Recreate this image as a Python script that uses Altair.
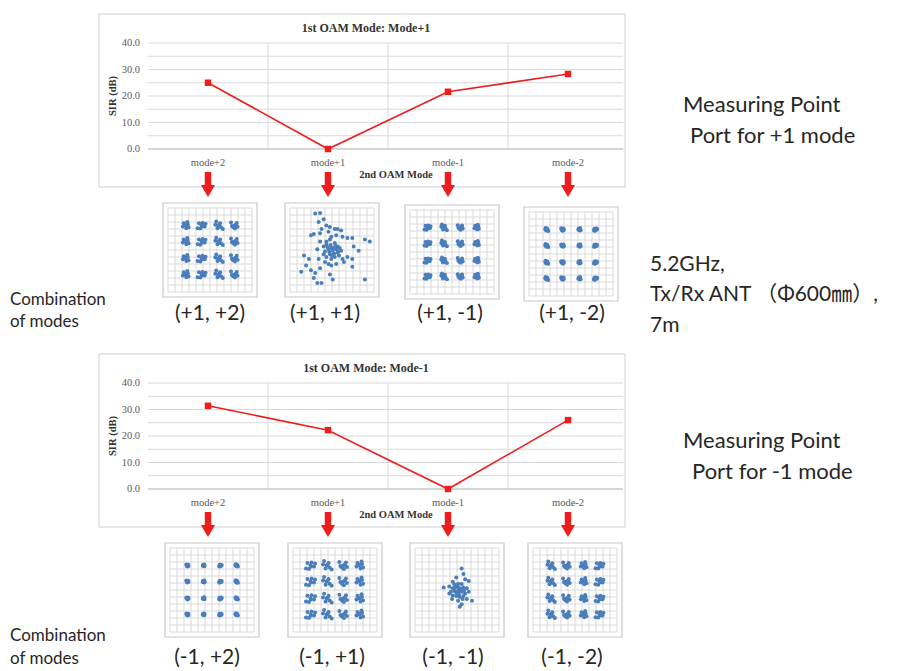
import altair as alt
import pandas as pd

# ---------------- data ----------------
MODES = ["mode+2", "mode+1", "mode-1", "mode-2"]
SIR_MODE_P1 = [25.0, 0.0, 21.6, 28.3]
SIR_MODE_M1 = [31.4, 22.2, 0.0, 26.0]
Y_GRID = [0, 5, 10, 15, 20, 25, 30, 35, 40]
Y_LABELS = [0, 10, 20, 30, 40]
TITLE_P1 = "1st OAM Mode: Mode+1"
TITLE_M1 = "1st OAM Mode: Mode-1"
X_TITLE = "2nd OAM Mode"
Y_TITLE = "SIR (dB)"

COMBOS_P1 = ["(+1, +2)", "(+1, +1)", "(+1, -1)", "(+1, -2)"]
COMBOS_M1 = ["(-1, +2)", "(-1, +1)", "(-1, -1)", "(-1, -2)"]
COMBO_TEXT = ["Combination", "of modes"]
RIGHT_P1 = ["Measuring Point", "Port for +1 mode"]
RIGHT_M1 = ["Measuring Point", "Port for -1 mode"]
SETUP_TEXT = ["5.2GHz,", "Tx/Rx ANT （Φ600㎜）,", "7m"]

THUMB_GRID = [-6, -5, -4, -3, -2, -1, 0, 1, 2, 3, 4, 5, 6]
LEVELS = [-3.5, -1.2, 1.2, 3.5]
JITTERS = [
    [(0, 0), (0.25, 0.15), (-0.2, 0.25), (0.1, -0.3), (-0.3, -0.1), (0.2, 0.4), (-0.05, 0.1), (0.35, -0.2)],
    [(0, 0), (0.35, -0.1), (0.1, 0.3), (-0.3, 0.25), (-0.15, -0.35), (0.45, 0.2), (-0.45, -0.3), (0.05, -0.1)],
    [(0, 0), (-0.35, 0.1), (0.2, 0.25), (0.3, -0.2), (-0.1, -0.3), (0.5, -0.4), (-0.25, 0.45), (0.1, 0.1)],
    [(0, 0), (0.25, 0.3), (-0.3, -0.05), (0.05, -0.35), (0.35, -0.15), (-0.4, 0.35), (0.15, 0.1), (-0.15, -0.2)],
]
# cluster spread per constellation panel (None = scattered panel)
SPREADS_P1 = [1.25, None, 0.95, 0.5]
SPREADS_M1 = [0.4, 1.45, None, 1.25]
SHIFTS_P1 = [0, 0, 1, 2]
SHIFTS_M1 = [3, 1, 0, 2]

SCAT_P1P1_X = [-2.4, -1.7, -1.9, -1.2, -1.5, -0.8, -0.3, 0.4, 0.8, 1.3, -3.0, -2.6, -1.7, -0.5, -0.1, 0.6, 1.5,
               2.2, 2.9, 4.7, 5.4, -1.7, -0.8, -0.3, 3.1, -2.1, -1.2, -0.5, -0.1, 0.1, 0.6, 0.8, -0.3, -0.8,
               0.4, 1.0, 1.5, 2.2, 2.9, 3.8, -4.0, -3.3, -1.0, -0.5, -0.1, 0.6, 1.7, 2.9, -3.7, -4.4, -3.0,
               -2.4, -2.6, -2.1, -1.5, -0.3, 0.1, 4.7, -1.2, -0.1, -1.7, -0.8, 0.4, 0.8, 1.3, -1.9, 0.2,
               -0.4, 0.3, 0.5, -0.6, 0.9, -0.2, 0.0, 1.1, -1.0]
SCAT_P1P1_Y = [5.2, 5.3, 4.0, 4.4, 3.0, 3.5, 3.3, 3.0, 3.0, 2.8, 2.1, 2.3, 2.4, 2.6, 1.9, 2.1, 1.9,
               1.7, 1.7, 1.5, 1.2, 1.2, 1.2, 1.5, 0.5, 0.1, 0.5, 0.1, 0.3, -0.1, 0.1, -0.4, -0.6, -1.0,
               -1.0, -0.8, -1.3, -1.0, -1.3, -0.1, -0.8, -1.3, -1.7, -2.0, -2.2, -2.0, -1.7, -2.4, -2.2, -3.1, -2.9,
               -3.3, -4.0, -4.7, -4.7, -3.5, -4.2, -4.2, -0.6, -1.3, -2.6, 0.8, 1.0, 0.5, -0.1, -1.3, 0.3,
               -0.3, -0.5, 0.6, 0.4, -0.2, 0.7, -0.8, 0.3, -0.2]
SCAT_M1M1_X = [0.66, 0.92, -0.1, 1.17, 1.68, -0.6, 0.15, 0.66, -1.9, -1.1, -0.6, -0.1, 0.4, 0.9, 1.4, -0.87,
               -0.36, 0.15, 0.66, 1.17, 1.68, -0.6, -0.1, 0.4, 0.92, 0.15, 1.4, 2.14, 0.66, 0.4, -1.1, -0.36,
               0.3, 0.0, 0.8, -0.7, 0.2, 0.5, -0.2, 0.7, 0.3, -0.4, 1.0, 0.1]
SCAT_M1M1_Y = [3.06, 2.3, 1.8, 1.53, 1.28, 1.17, 0.9, 0.87, 0.36, 0.5, 0.26, 0.5, 0.26, 0.36, 0.26, -0.26,
               -0.15, -0.36, -0.26, -0.5, -0.26, -0.77, -0.87, -1.0, -0.87, -1.53, -1.28, -1.53, -2.04, -2.4, -0.5, 0.77,
               0.0, -0.5, -1.3, -1.3, 0.1, -0.1, -0.3, 0.1, -0.7, 0.3, -0.1, 0.5]

# ---------------- style ----------------
RED = "#ee1d1d"
BLUE = "#4a7ebb"
GRID_C = "#d9d9d9"
FRAME_C = "#c8c8c8"
TEXT_C = "#262626"
SERIF = "Liberation Serif"
SANS = "Lato, 'Noto Sans CJK JP', sans-serif"

W, H = 902, 663
BOX_L, BOX_R = 91, 617
PLOT_L, PLOT_R = 140, 620

ONE = pd.DataFrame({"k": [0]})


def text_line(s, x, y, size, align="left", font=SANS, bold=False, angle=0, color=TEXT_C):
    return alt.Chart(pd.DataFrame({"t": [s]})).mark_text(
        align=align, baseline="middle", font=font, fontSize=size,
        fontWeight="bold" if bold else "normal", angle=angle, color=color
    ).encode(x=alt.value(x), y=alt.value(y), text="t:N")


def line_panel(values, title, top):
    df = pd.DataFrame({"mode": MODES, "sir": values, "idx": list(range(len(MODES)))})
    xs = alt.Scale(type="point", domain=MODES, range=[PLOT_L, PLOT_R], padding=0.5)
    ys = alt.Scale(domain=[0, 40], range=[top + 135, top + 29], nice=False, zero=False)
    X = alt.X("mode:N", scale=xs, axis=None)

    box = alt.Chart(ONE).mark_rect(fill="white", stroke="#d0d0d0", strokeWidth=1).encode(
        x=alt.value(BOX_L), x2=alt.value(BOX_R), y=alt.value(top), y2=alt.value(top + 173))
    hgrid = alt.Chart(pd.DataFrame({"v": Y_GRID})).mark_rule(color=GRID_C, strokeWidth=1).encode(
        y=alt.Y("v:Q", scale=ys, axis=None), x=alt.value(PLOT_L), x2=alt.value(BOX_R - 2))
    vgrid = alt.Chart(pd.DataFrame({"mode": MODES[:-1]})).mark_rule(
        color=GRID_C, strokeWidth=1, xOffset=60).encode(
        x=X, y=alt.value(top + 29), y2=alt.value(top + 135))
    base = alt.Chart(pd.DataFrame({"v": [0]})).mark_rule(color="#bfbfbf", strokeWidth=1).encode(
        y=alt.Y("v:Q", scale=ys, axis=None), x=alt.value(PLOT_L), x2=alt.value(BOX_R - 2))
    ylab = alt.Chart(pd.DataFrame({"v": Y_LABELS})).mark_text(
        align="right", baseline="middle", font=SERIF, fontSize=10.5, color="#595959").encode(
        y=alt.Y("v:Q", scale=ys, axis=None), x=alt.value(PLOT_L - 8),
        text=alt.Text("v:Q", format=".1f"))
    xlab = alt.Chart(df).mark_text(
        align="center", baseline="middle", font=SERIF, fontSize=10.5, color="#595959").encode(
        x=X, y=alt.value(top + 149), text="mode:N")
    ttl = text_line(title, 358, top + 14, 12, align="center", font=SERIF, bold=True, color="#333333")
    xttl = text_line(X_TITLE, 388, top + 161, 10.5, align="center", font=SERIF, bold=True, color="#333333")
    yttl = text_line(Y_TITLE, 105, top + 82, 10.5, align="center", font=SERIF, bold=True, angle=270,
                     color="#333333")
    line = alt.Chart(df).mark_line(color=RED, strokeWidth=1.6).encode(
        x=X, y=alt.Y("sir:Q", scale=ys, axis=None), order="idx:Q")
    pts = alt.Chart(df).mark_square(size=42, color=RED, opacity=1).encode(
        x=X, y=alt.Y("sir:Q", scale=ys, axis=None))
    shaft = alt.Chart(df).mark_rule(color=RED, strokeWidth=6.5).encode(
        x=X, y=alt.value(top + 158), y2=alt.value(top + 176))
    head = alt.Chart(df).mark_point(shape="triangle-down", size=200, filled=True, color=RED,
                                    opacity=1).encode(x=X, y=alt.value(top + 177))
    return alt.layer(box, hgrid, vgrid, base, ylab, xlab, ttl, xttl, yttl, line, pts, shaft, head)


def cluster_df(spread, shift):
    xs, ys = [], []
    k = 0
    for cy in LEVELS[::-1]:
        for cx in LEVELS:
            for dx, dy in JITTERS[(k + shift) % len(JITTERS)]:
                xs.append(cx + spread * dx)
                ys.append(cy + spread * dy)
            k += 1
    return pd.DataFrame({"x": xs, "y": ys})


def thumb(df, fx, fy, size=94, inset=5):
    gx0, gx1 = fx + inset, fx + size - inset
    gy0, gy1 = fy + inset, fy + size - inset
    xs = alt.Scale(domain=[-6, 6], range=[gx0, gx1], nice=False, zero=False)
    ys = alt.Scale(domain=[-6, 6], range=[gy1, gy0], nice=False, zero=False)
    frame = alt.Chart(ONE).mark_rect(fill="white", stroke=FRAME_C, strokeWidth=1.2).encode(
        x=alt.value(fx), x2=alt.value(fx + size), y=alt.value(fy), y2=alt.value(fy + size))
    gdf = pd.DataFrame({"g": THUMB_GRID})
    vgrid = alt.Chart(gdf).mark_rule(color=GRID_C, strokeWidth=1).encode(
        x=alt.X("g:Q", scale=xs, axis=None), y=alt.value(gy0), y2=alt.value(gy1))
    hgrid = alt.Chart(gdf).mark_rule(color=GRID_C, strokeWidth=1).encode(
        y=alt.Y("g:Q", scale=ys, axis=None), x=alt.value(gx0), x2=alt.value(gx1))
    pts = alt.Chart(df).mark_circle(size=16, color=BLUE, opacity=1).encode(
        x=alt.X("x:Q", scale=xs, axis=None), y=alt.Y("y:Q", scale=ys, axis=None))
    return alt.layer(frame, vgrid, hgrid, pts)


groups = []
groups.append(line_panel(SIR_MODE_P1, TITLE_P1, 6))
groups.append(line_panel(SIR_MODE_M1, TITLE_M1, 346))

scat_p1p1 = pd.DataFrame({"x": SCAT_P1P1_X, "y": SCAT_P1P1_Y})
scat_m1m1 = pd.DataFrame({"x": SCAT_M1M1_X, "y": SCAT_M1M1_Y})

top_frames = [(155, 195), (277, 195), (397, 197), (516, 199)]
bot_frames = [(157, 535), (280, 535), (402, 535), (520, 535)]
top_lab_x = [202, 317, 442, 564]
bot_lab_x = [199, 324, 445, 564]

for i in range(4):
    d = scat_p1p1 if SPREADS_P1[i] is None else cluster_df(SPREADS_P1[i], SHIFTS_P1[i])
    groups.append(thumb(d, *top_frames[i]))
    groups.append(text_line(COMBOS_P1[i], top_lab_x[i], 306, 21, align="center"))
for i in range(4):
    d = scat_m1m1 if SPREADS_M1[i] is None else cluster_df(SPREADS_M1[i], SHIFTS_M1[i])
    groups.append(thumb(d, *bot_frames[i]))
    groups.append(text_line(COMBOS_M1[i], bot_lab_x[i], 650, 21, align="center"))

# side texts
groups.append(text_line(COMBO_TEXT[0], 2, 292, 17))
groups.append(text_line(COMBO_TEXT[1], 2, 314, 17))
groups.append(text_line(COMBO_TEXT[0], 2, 628, 17))
groups.append(text_line(COMBO_TEXT[1], 2, 651, 17))
groups.append(text_line(RIGHT_P1[0], 675, 97, 22))
groups.append(text_line(RIGHT_P1[1], 682, 128, 22))
groups.append(text_line(RIGHT_M1[0], 675, 433, 22))
groups.append(text_line(RIGHT_M1[1], 684, 464, 22))
groups.append(text_line(SETUP_TEXT[0], 642, 257, 21))
groups.append(text_line(SETUP_TEXT[1], 642, 287, 21))
groups.append(text_line(SETUP_TEXT[2], 642, 318, 21))

chart = alt.layer(*groups).resolve_scale(x="independent", y="independent").properties(
    width=W, height=H, autosize=alt.AutoSizeParams(type="none"), padding=0,
    background="white"
).configure_view(stroke=None)

chart.save("out.html", embed_options={"renderer": "svg", "actions": False})
